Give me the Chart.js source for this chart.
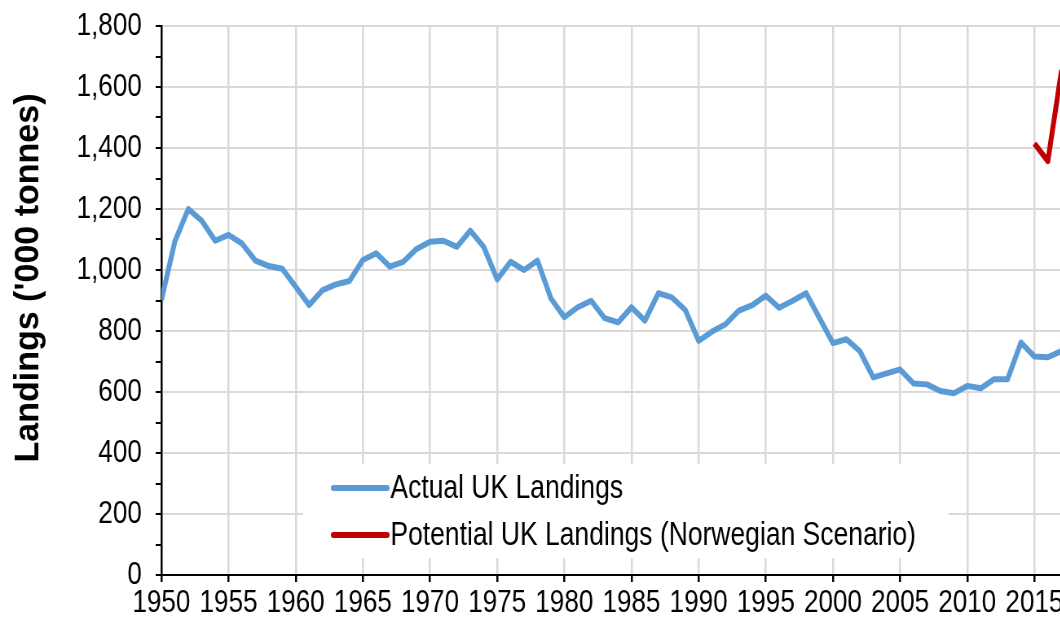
<!DOCTYPE html>
<html>
<head>
<meta charset="utf-8">
<title>UK Landings</title>
<script src="https://cdn.jsdelivr.net/npm/chart.js@4.4.1/dist/chart.umd.min.js"></script>
<style>
    html, body { margin: 0; padding: 0; background: #fff; overflow: hidden; }
    /* the reference looks squeezed sideways, so draw wide and scale x */
    #Chart1 { position: absolute; left: 0; top: 0; transform: scaleX(0.815); transform-origin: 0 0; }
</style>
</head>
<body>
<canvas id="Chart1" width="1474" height="619"></canvas>
<script>
// 数据
var years = [1950, 1951, 1952, 1953, 1954, 1955, 1956, 1957, 1958, 1959,
    1960, 1961, 1962, 1963, 1964, 1965, 1966, 1967, 1968, 1969,
    1970, 1971, 1972, 1973, 1974, 1975, 1976, 1977, 1978, 1979,
    1980, 1981, 1982, 1983, 1984, 1985, 1986, 1987, 1988, 1989,
    1990, 1991, 1992, 1993, 1994, 1995, 1996, 1997, 1998, 1999,
    2000, 2001, 2002, 2003, 2004, 2005, 2006, 2007, 2008, 2009,
    2010, 2011, 2012, 2013, 2014, 2015, 2016, 2017, 2018];
var actualLandings = [901, 1093, 1200, 1162, 1096, 1115, 1087, 1031, 1013, 1004,
    945, 885, 934, 953, 964, 1033, 1055, 1011, 1027, 1069,
    1093, 1096, 1076, 1129, 1076, 969, 1027, 1000, 1031, 907,
    845, 878, 899, 842, 828, 878, 834, 924, 910, 869,
    768, 798, 822, 867, 885, 916, 876, 899, 924, 842,
    760, 773, 734, 648, 661, 674, 628, 625, 603, 596,
    620, 612, 642, 642, 762, 716, 714, 734, 705];
var potentialYears = [2015, 2016, 2017, 2018];
var potentialLandings = [1415, 1357, 1650, 1700];
var seriesNames = ["Actual UK Landings", "Potential UK Landings (Norwegian Scenario)"];
var yTitle = "Landings ('000 tonnes)";

function toPoints(xs, ys) {
    return xs.map(function (x, i) { return {x: x, y: ys[i]}; });
}

Chart.defaults.font.family = "'Liberation Sans', Arial, sans-serif";
Chart.defaults.font.size = 32;
Chart.defaults.color = "#000";

// 图例画在绘图区里面
var insideLegend = {
    id: "insideLegend",
    afterDatasetsDraw: function (chart) {
        var ctx = chart.ctx;
        ctx.save();
        ctx.fillStyle = "#fff";
        ctx.fillRect(372, 464, 792, 94);
        ctx.font = "32.5px 'Liberation Sans', Arial, sans-serif";
        ctx.textBaseline = "middle";
        chart.data.datasets.forEach(function (ds, i) {
            var y = 488 + i * 47;
            ctx.strokeStyle = ds.borderColor;
            ctx.lineWidth = 6;
            ctx.lineCap = "round";
            ctx.beginPath();
            ctx.moveTo(409, y);
            ctx.lineTo(475, y);
            ctx.stroke();
            ctx.fillStyle = "#000";
            ctx.fillText(ds.label, 479, y + 1);
        });
        ctx.restore();
    }
};

// 纵轴标题（不跟着横向压缩）
var axisTitle = {
    id: "axisTitle",
    afterDraw: function (chart) {
        var ctx = chart.ctx;
        ctx.save();
        ctx.translate(35, 278);
        ctx.scale(1 / 0.815, 1);
        ctx.rotate(-Math.PI / 2);
        ctx.font = "bold 34px 'Liberation Sans', Arial, sans-serif";
        ctx.fillStyle = "#000";
        ctx.textAlign = "center";
        ctx.textBaseline = "middle";
        ctx.fillText(yTitle, 0, 0);
        ctx.restore();
    }
};

var ctx = document.getElementById("Chart1").getContext("2d");
var myChart = new Chart(ctx, {
    type: "line",
    data: {
        datasets: [{
            label: seriesNames[0],
            data: toPoints(years, actualLandings),
            borderColor: "#5b9bd5",
            borderWidth: 6,
            borderJoinStyle: "round",
            pointRadius: 0,
            tension: 0
        }, {
            label: seriesNames[1],
            data: toPoints(potentialYears, potentialLandings),
            borderColor: "#c00000",
            borderWidth: 6,
            borderJoinStyle: "round",
            pointRadius: 0,
            tension: 0
        }]
    },
    options: {
        responsive: false,
        animation: false,
        layout: {padding: {top: 26, right: 40, bottom: 0, left: 0}},
        plugins: {
            legend: {display: false},
            tooltip: {enabled: false}
        },
        scales: {
            x: {
                type: "linear",
                min: 1950,
                max: 2025,
                afterFit: function (scale) { scale.height = 44; },
                grid: {color: "#d9d9d9", lineWidth: 2.5, tickColor: "#000", tickLength: 7, tickWidth: 2.5},
                border: {color: "#000", width: 2},
                ticks: {
                    stepSize: 5,
                    autoSkip: false,
                    maxRotation: 0,
                    padding: 2,
                    callback: function (v) { return String(v); }
                }
            },
            y: {
                min: 0,
                max: 1800,
                afterFit: function (scale) {
                    scale.width = 198;
                    scale.paddingTop = 0;
                    scale.paddingBottom = 0;
                },
                grid: {
                    color: function (c) {
                        return c.tick && c.tick.value % 200 === 0 ? "#d9d9d9" : "rgba(0,0,0,0)";
                    },
                    lineWidth: 2,
                    tickColor: "#000",
                    tickLength: 7,
                    tickWidth: 2
                },
                border: {color: "#000", width: 2.5},
                ticks: {
                    stepSize: 100,
                    autoSkip: false,
                    padding: 17,
                    callback: function (v) {
                        return v % 200 === 0 ? v.toLocaleString("en-US") : "";
                    }
                }
            }
        }
    },
    plugins: [insideLegend, axisTitle]
});
</script>
</body>
</html>
